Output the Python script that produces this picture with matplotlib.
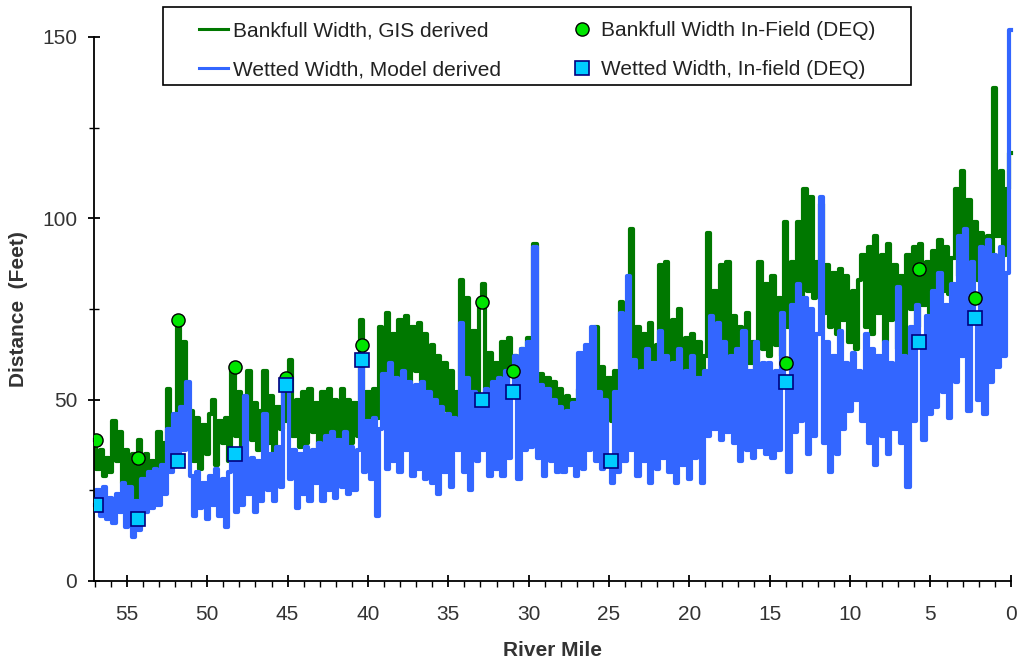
import numpy as np
import matplotlib
matplotlib.use("Agg")
import matplotlib.pyplot as plt
from matplotlib.patches import Rectangle

plt.rcParams['font.family'] = ['Liberation Sans', 'DejaVu Sans']

# river mile stations, every 0.2 mile from 57 down to 0
river_mile = np.round(np.arange(57.0, -0.01, -0.2), 1)

# bankfull width, GIS derived (feet), 5 values per mile
bankfull_gis = [
    39, 31, 36, 29, 34,   # 57
    30, 44, 33, 41, 27,   # 56
    36, 24, 35, 23, 39,   # 55
    29, 35, 26, 33, 27,   # 54
    41, 30, 38, 53, 34,   # 53
    45, 72, 40, 66, 43,   # 52
    47, 33, 45, 31, 43,   # 51
    35, 46, 50, 32, 44,   # 50
    38, 45, 33, 59, 40,   # 49
    52, 37, 50, 58, 39,   # 48
    49, 36, 47, 58, 38,   # 47
    51, 35, 48, 42, 56,   # 46
    44, 61, 40, 50, 37,   # 45
    52, 38, 53, 41, 49,   # 44
    36, 52, 34, 53, 38,   # 43
    50, 33, 53, 36, 50,   # 42
    38, 49, 40, 72, 44,   # 41
    52, 41, 53, 45, 70,   # 40
    52, 74, 55, 68, 53,   # 39
    72, 56, 73, 54, 70,   # 38
    58, 71, 55, 68, 52,   # 37
    65, 50, 62, 48, 60,   # 36
    47, 58, 45, 52, 83,   # 35
    56, 78, 50, 69, 48,   # 34
    77, 82, 52, 63, 47,   # 33
    60, 50, 66, 48, 67,   # 32
    58, 62, 50, 64, 55,   # 31
    67, 60, 93, 52, 57,   # 30
    46, 56, 44, 55, 42,   # 29
    53, 43, 51, 41, 50,   # 28
    45, 53, 61, 46, 63,   # 27
    55, 70, 48, 59, 45,   # 26
    56, 44, 58, 47, 77,   # 25
    52, 75, 97, 56, 70,   # 24
    52, 68, 50, 71, 54,   # 23
    65, 87, 54, 88, 56,   # 22
    72, 53, 75, 57, 67,   # 21
    55, 68, 52, 66, 54,   # 20
    62, 96, 58, 80, 60,   # 19
    87, 58, 88, 62, 73,   # 18
    58, 70, 56, 74, 60,   # 17
    66, 57, 88, 64, 82,   # 16
    62, 84, 65, 78, 62,   # 15
    99, 70, 88, 72, 99,   # 14
    76, 108, 80, 106, 78,  # 13
    88, 104, 74, 87, 70,  # 12
    85, 68, 86, 72, 84,   # 11
    66, 80, 64, 83, 90,   # 10
    70, 92, 68, 95, 74,   # 9
    90, 66, 93, 72, 87,   # 8
    64, 84, 62, 90, 75,   # 7
    92, 70, 93, 76, 88,   # 6
    74, 91, 78, 94, 80,   # 5
    92, 79, 89, 108, 84,  # 4
    113, 90, 105, 86, 99,  # 3
    83, 96, 82, 95, 88,   # 2
    136, 95, 113, 90, 108,  # 1
    118,                  # 0
]

# wetted width, model derived (feet)
wetted_model = [
    21, 25, 18, 26, 17,   # 57
    23, 16, 24, 19, 27,   # 56
    15, 26, 12, 22, 14,   # 55
    28, 19, 30, 20, 31,   # 54
    21, 32, 24, 42, 30,   # 53
    46, 33, 48, 36, 55,   # 52
    29, 18, 30, 20, 27,   # 51
    17, 29, 21, 31, 18,   # 50
    28, 15, 30, 35, 19,   # 49
    33, 21, 51, 24, 34,   # 48
    19, 33, 22, 46, 25,   # 47
    35, 22, 37, 26, 54,   # 46
    55, 28, 36, 20, 35,   # 45
    24, 37, 22, 36, 27,   # 44
    38, 22, 40, 25, 41,   # 43
    23, 39, 26, 41, 24,   # 42
    37, 25, 36, 61, 30,   # 41
    44, 28, 45, 18, 42,   # 40
    57, 31, 60, 33, 56,   # 39
    30, 58, 36, 55, 29,   # 38
    54, 31, 55, 28, 52,   # 37
    27, 50, 24, 48, 30,   # 36
    46, 26, 45, 36, 71,   # 35
    30, 56, 25, 52, 33,   # 34
    50, 36, 53, 29, 55,   # 33
    31, 56, 29, 58, 34,   # 32
    52, 62, 28, 64, 36,   # 31
    66, 37, 92, 34, 54,   # 30
    29, 53, 33, 50, 30,   # 29
    48, 30, 47, 32, 49,   # 28
    29, 63, 31, 65, 36,   # 27
    70, 33, 52, 31, 50,   # 26
    33, 27, 52, 30, 74,   # 25
    33, 84, 36, 61, 29,   # 24
    58, 33, 64, 27, 60,   # 23
    31, 69, 34, 62, 30,   # 22
    60, 27, 64, 32, 58,   # 21
    28, 62, 34, 56, 27,   # 20
    58, 40, 73, 42, 71,   # 19
    39, 66, 41, 62, 38,   # 18
    64, 33, 69, 36, 58,   # 17
    34, 66, 37, 60, 35,   # 16
    60, 34, 58, 36, 74,   # 15
    55, 30, 76, 41, 82,   # 14
    44, 78, 35, 75, 40,   # 13
    68, 106, 38, 66, 30,  # 12
    62, 35, 69, 42, 60,   # 11
    47, 63, 50, 58, 44,   # 10
    68, 38, 64, 32, 62,   # 9
    40, 66, 35, 60, 42,   # 8
    81, 38, 62, 26, 70,   # 7
    44, 76, 66, 39, 73,   # 6
    46, 80, 48, 85, 52,   # 5
    76, 45, 82, 55, 95,   # 4
    62, 97, 47, 88, 72,   # 3
    50, 92, 46, 94, 55,   # 2
    90, 59, 92, 62, 85,   # 1
    152,                  # 0
]

# DEQ field measurements
field_mile = [56.9, 54.3, 51.8, 48.3, 45.1, 40.4, 32.9, 31.0, 24.9, 14.0, 5.7, 2.2]
bankfull_field_mile = [56.9, 54.3, 51.8, 48.3, 45.1, 40.4, 32.9, 31.0, 14.0, 5.7, 2.2]
bankfull_field = [39, 34, 72, 59, 56, 65, 77, 58, 60, 86, 78]
wetted_field = [21, 17, 33, 35, 54, 61, 50, 52, 33, 55, 66, 72.5]

fig = plt.figure(figsize=(10.21, 6.63), dpi=100)
ax = fig.add_axes([0.092, 0.1237, 0.898, 0.8205])

l1, = ax.plot(river_mile, bankfull_gis, color='#007800', lw=3.0,
              drawstyle='steps-mid', label='Bankfull Width, GIS derived', clip_on=False)
l2, = ax.plot(river_mile, wetted_model, color='#3366FF', lw=3.0,
              drawstyle='steps-mid', label='Wetted Width, Model derived', clip_on=False)
m1, = ax.plot(bankfull_field_mile, bankfull_field, 'o', ms=9.5, mfc='#00E600',
              mec='black', mew=1.0, label='Bankfull Width In-Field (DEQ)', zorder=4)
m2, = ax.plot(field_mile, wetted_field, 's', ms=10.5, mfc='#00CCFF',
              mec='#000080', mew=1.2, label='Wetted Width, In-field (DEQ)', zorder=5)

ax.set_xlim(57.05, 0)
ax.set_ylim(0, 150)

ax.spines['top'].set_visible(False)
ax.spines['right'].set_visible(False)
for s in ('left', 'bottom'):
    ax.spines[s].set_linewidth(1.3)

ax.set_xticks(range(0, 56, 5))
ax.set_xticks(range(0, 58), minor=True)
ax.set_yticks([0, 50, 100, 150])
ax.set_yticks([25, 75, 125], minor=True)

ax.tick_params(axis='x', which='major', direction='inout', length=8.5, width=1.3,
               labelsize=15, pad=13, labelcolor='#333333')
ax.tick_params(axis='x', which='minor', direction='out', length=4.3, width=1.0)
ax.tick_params(axis='y', which='major', direction='inout', length=8, width=1.3,
               labelsize=15, pad=8, labelcolor='#333333')
ax.tick_params(axis='y', which='minor', direction='inout', length=6.5, width=1.0)

ax.set_xlabel('River Mile', fontsize=15, fontweight='bold', color='#333333', labelpad=12)
ax.set_ylabel('Distance  (Feet)', fontsize=15, fontweight='bold', color='#333333', labelpad=10)

leg = fig.legend(handles=[l1, l2, m1, m2], ncol=2, loc='upper center',
                 bbox_to_anchor=(0.526, 0.984), fontsize=15, frameon=False,
                 handlelength=1.4, handletextpad=0.2, columnspacing=3.2,
                 borderpad=0.5, borderaxespad=0, labelspacing=0.97)
for t in leg.get_texts():
    t.set_color('#222222')
for h in leg.get_lines():
    if h.get_linestyle() != 'None':
        h.set_linewidth(2.2)

# legend frame, wider than matplotlib's default padding
fig.canvas.draw()
bb = leg.get_window_extent()
frame = Rectangle((bb.x0 - 26, bb.y0 + 5), bb.width + 52, bb.height - 1,
                  transform=None, fill=True, facecolor='white', edgecolor='black',
                  lw=1.2, zorder=leg.get_zorder() - 0.1)
fig.patches.append(frame)

fig.savefig('out.png', dpi=100)
